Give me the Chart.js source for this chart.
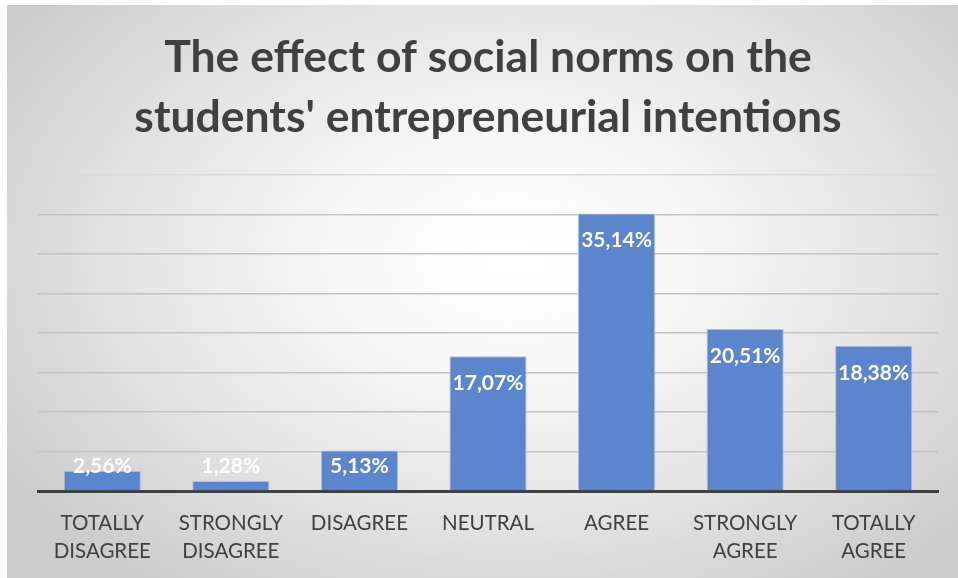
<!DOCTYPE html>
<html>
<head>
<meta charset="utf-8">
<script src="https://cdn.jsdelivr.net/npm/chart.js@4/dist/chart.umd.min.js"></script>
<style>
  html, body { margin: 0; padding: 0; background: #ffffff; }
  body { width: 958px; height: 578px; position: relative; overflow: hidden; }
  #frame {
    position: absolute; left: 7px; top: 5px; width: 951px; height: 573px;
    background: radial-gradient(ellipse 62% 70% at 53% 44%, #ffffff 0%, #f7f7f7 30%, #e4e4e4 65%, #cdcdcd 100%);
  }
  canvas { display: block; }
</style>
</head>
<body>
<div id="frame"><canvas id="chart" width="951" height="573"></canvas></div>
<script>
// Survey answers and the share of students giving each answer (%)
const categories = [
  ['TOTALLY', 'DISAGREE'],
  ['STRONGLY', 'DISAGREE'],
  ['DISAGREE'],
  ['NEUTRAL'],
  ['AGREE'],
  ['STRONGLY', 'AGREE'],
  ['TOTALLY', 'AGREE']
];
const shares = [2.56, 1.28, 5.13, 17.07, 35.14, 20.51, 18.38];
const titleLines = ['The effect of social norms on the', "students' entrepreneurial intentions"];
const yMax = 40;
const yStep = 5;

const FONT = "Lato, 'Open Sans', 'DejaVu Sans', sans-serif";
const TEXT = '#404040';

// White value labels drawn inside the top of each bar
const valueLabels = {
  id: 'valueLabels',
  afterDatasetsDraw(chart) {
    const ctx = chart.ctx;
    const meta = chart.getDatasetMeta(0);
    ctx.save();
    ctx.fillStyle = '#ffffff';
    ctx.font = 'bold 21px ' + FONT;
    ctx.textAlign = 'center';
    ctx.textBaseline = 'middle';
    meta.data.forEach((bar, i) => {
      const y = Math.min(bar.y + 27, bar.base - 24);
      const txt = shares[i].toFixed(2).replace('.', ',') + '%';
      ctx.fillText(txt, bar.x, y);
    });
    ctx.restore();
  }
};

new Chart(document.getElementById('chart'), {
  type: 'bar',
  data: {
    labels: categories,
    datasets: [{
      data: shares,
      backgroundColor: '#5b86cd',
      borderColor: '#a9c0e8',
      borderWidth: 1,
      barPercentage: 0.6,
      categoryPercentage: 1.0
    }]
  },
  options: {
    responsive: false,
    animation: false,
    layout: { padding: { left: 31, right: 20, top: 0, bottom: 3 } },
    plugins: {
      legend: { display: false },
      tooltip: { enabled: false },
      title: {
        display: true,
        text: titleLines,
        color: TEXT,
        font: { family: FONT, size: 44.5, weight: 'bold', lineHeight: 60 / 44.5 },
        padding: { top: 23, bottom: 27 }
      }
    },
    scales: {
      x: {
        grid: { display: false },
        border: { display: true, color: '#404040', width: 3 },
        ticks: {
          color: TEXT,
          font: { family: FONT, size: 20.5, lineHeight: 28 / 20.5 },
          padding: 10,
          maxRotation: 0,
          autoSkip: false
        }
      },
      y: {
        min: 0,
        max: yMax,
        ticks: { display: false, stepSize: yStep },
        border: { display: false },
        grid: {
          color: (c) => c.tick && c.tick.value === yMax ? '#dadada' : '#c4c4c4',
          lineWidth: 1.5,
          drawTicks: false
        }
      }
    }
  },
  plugins: [valueLabels]
});
</script>
</body>
</html>
